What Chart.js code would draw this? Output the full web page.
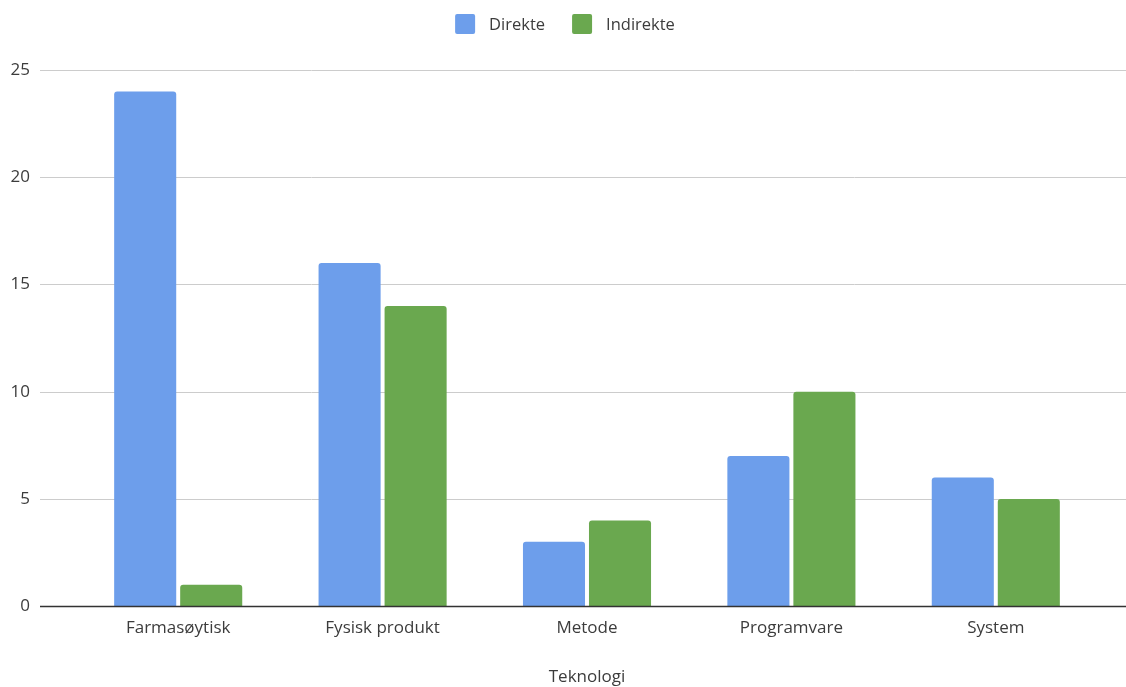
<!DOCTYPE html>
<html>
<head>
<meta charset="utf-8">
<script src="https://cdn.jsdelivr.net/npm/chart.js@4"></script>
<style>
  html, body { margin: 0; padding: 0; background: #fff; }
  #wrap { width: 1126px; height: 687px; }
</style>
</head>
<body>
<div id="wrap"><canvas id="c" width="1126" height="687"></canvas></div>
<script>
const categories = ['Farmasøytisk', 'Fysisk produkt', 'Metode', 'Programvare', 'System'];
const direkte = [24, 16, 3, 7, 6];
const indirekte = [1, 14, 4, 10, 5];
const yTicks = [0, 5, 10, 15, 20, 25];
const seriesNames = ['Direkte', 'Indirekte'];
const seriesColors = ['#6d9eeb', '#6aa84f'];
const axisTitle = 'Teknologi';

const FONT = "'Open Sans', 'Noto Sans', sans-serif";
const TEXT = '#3c3c3c';
const GRID_LEFT = 40;

// Horizontal grid lines run wider than the bar area, plus a dark zero line.
const wideGrid = {
  id: 'wideGrid',
  beforeDatasetsDraw(chart) {
    const y = chart.scales.y;
    const ctx = chart.ctx;
    ctx.save();
    ctx.strokeStyle = '#cccccc';
    ctx.lineWidth = 1;
    yTicks.forEach(v => {
      if (v === 0) return;
      const py = Math.round(y.getPixelForValue(v)) + 0.5;
      ctx.beginPath();
      ctx.moveTo(GRID_LEFT, py);
      ctx.lineTo(chart.width, py);
      ctx.stroke();
    });
    ctx.restore();
  },
  afterDatasetsDraw(chart) {
    const y = chart.scales.y;
    const ctx = chart.ctx;
    const py = Math.round(y.getPixelForValue(0)) + 0.5;
    ctx.save();
    ctx.strokeStyle = '#333333';
    ctx.lineWidth = 1.5;
    ctx.beginPath();
    ctx.moveTo(GRID_LEFT, py);
    ctx.lineTo(chart.width, py);
    ctx.stroke();
    ctx.restore();
  }
};

// Centered legend row above the plot: rounded swatch, gap, series name.
const topLegend = {
  id: 'topLegend',
  afterDraw(chart) {
    const ctx = chart.ctx;
    const box = 20, gap = 14, between = 27, cy = 24;
    ctx.save();
    ctx.font = "16.5px " + FONT;
    ctx.textBaseline = 'middle';
    const items = chart.data.datasets.map(ds => ({
      text: ds.label, color: ds.backgroundColor, w: ctx.measureText(ds.label).width
    }));
    const total = items.reduce((s, it) => s + box + gap + it.w, 0) + between * (items.length - 1);
    let x = (chart.width - total) / 2 + 2;
    items.forEach(it => {
      ctx.fillStyle = it.color;
      ctx.beginPath();
      ctx.roundRect(x, cy - box / 2, box, box, 2);
      ctx.fill();
      ctx.fillStyle = TEXT;
      ctx.fillText(it.text, x + box + gap, cy + 1);
      x += box + gap + it.w + between;
    });
    ctx.restore();
  }
};

new Chart(document.getElementById('c'), {
  type: 'bar',
  data: {
    labels: categories,
    datasets: [
      { label: seriesNames[0], data: direkte, backgroundColor: seriesColors[0],
        borderRadius: { topLeft: 3, topRight: 3 }, borderSkipped: 'bottom' },
      { label: seriesNames[1], data: indirekte, backgroundColor: seriesColors[1],
        borderRadius: { topLeft: 3, topRight: 3 }, borderSkipped: 'bottom' }
    ]
  },
  options: {
    responsive: false,
    animation: false,
    devicePixelRatio: 1,
    layout: { padding: { top: 70, right: 28, bottom: 0, left: 0 } },
    datasets: { bar: { categoryPercentage: 0.646, barPercentage: 0.94 } },
    plugins: {
      tooltip: { enabled: false },
      legend: { display: false }
    },
    scales: {
      x: {
        grid: { display: false, drawTicks: false },
        border: { display: false },
        ticks: { font: { family: FONT, size: 17 }, color: TEXT, padding: 12 },
        title: { display: true, text: axisTitle, font: { family: FONT, size: 17 }, color: TEXT, padding: { top: 16, bottom: 0 } }
      },
      y: {
        min: 0, max: 25,
        afterBuildTicks(scale) { scale.ticks = yTicks.map(v => ({ value: v })); },
        afterFit(scale) { scale.width = 76; },
        grid: { display: false, drawTicks: false },
        border: { display: false },
        ticks: { font: { family: FONT, size: 17 }, color: TEXT, padding: 46 }
      }
    }
  },
  plugins: [wideGrid, topLegend]
});
</script>
</body>
</html>
